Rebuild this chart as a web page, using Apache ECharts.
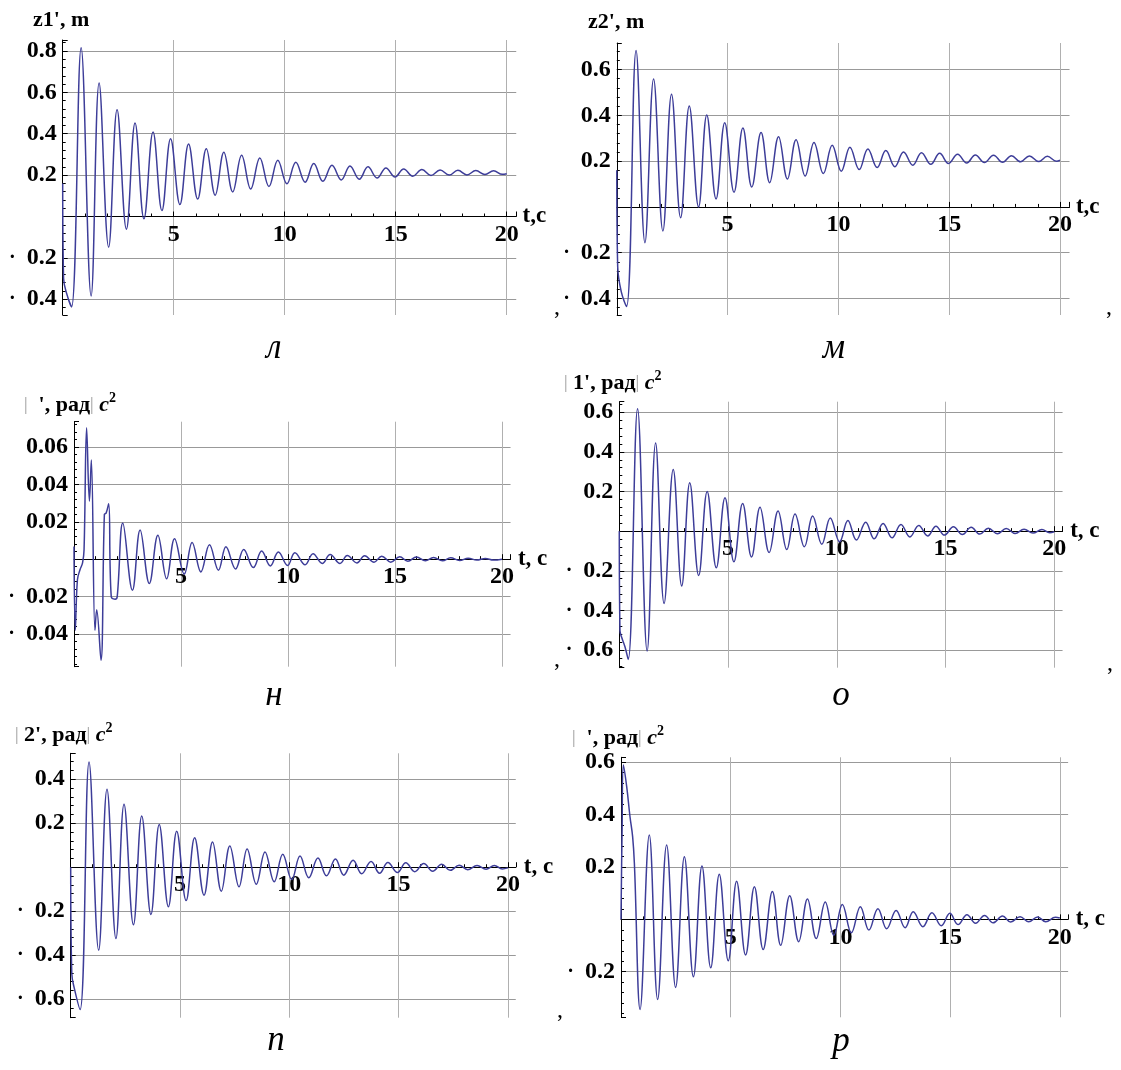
<!DOCTYPE html>
<html><head><meta charset="utf-8">
<script src="https://cdn.jsdelivr.net/npm/echarts@6/dist/echarts.min.js"></script>
<style>html,body{margin:0;padding:0;background:#fff}#c{width:1121px;height:1070px}</style>
</head><body><div id="c"></div>
<script>
// ---- data (t in s, value) ----
const tL = [0,0.04,0.2,0.4,0.83,1.28,1.64,2.07,2.45,2.87,3.26,3.66,4.07,4.47,4.86,5.28,5.67,6.08,6.47,6.87,7.26,7.66,8.06,8.47,8.88,9.29,9.69,10.1,10.5,10.92,11.31,11.72,12.13,12.55,12.94,13.36,13.75,14.16,14.56,14.97,15.36,15.77,16.18,16.59,17.0,17.41,17.8,18.21,18.61,19.02,19.41,19.8,20];
const vL = [0.16,-0.3,-0.38,-0.437,0.815,-0.384,0.645,-0.148,0.516,-0.061,0.452,-0.011,0.408,0.029,0.376,0.058,0.35,0.084,0.328,0.103,0.31,0.119,0.296,0.133,0.283,0.145,0.272,0.158,0.262,0.166,0.256,0.17,0.248,0.177,0.244,0.18,0.24,0.186,0.235,0.191,0.23,0.195,0.227,0.198,0.225,0.2,0.223,0.201,0.222,0.203,0.221,0.204,0.207];

const tM = [0,0.04,0.2,0.44,0.87,1.27,1.66,2.08,2.47,2.88,3.27,3.69,4.06,4.48,4.87,5.29,5.69,6.09,6.51,6.9,7.3,7.7,8.09,8.5,8.9,9.32,9.72,10.13,10.52,10.94,11.33,11.75,12.14,12.55,12.94,13.36,13.75,14.17,14.57,14.97,15.38,15.79,16.18,16.59,17.0,17.41,17.81,18.22,18.62,19.04,19.43,19.84,20];
const vM = [0.16,-0.26,-0.37,-0.435,0.683,-0.156,0.559,-0.105,0.492,-0.047,0.441,0.0,0.402,0.035,0.368,0.064,0.345,0.087,0.325,0.106,0.307,0.122,0.293,0.135,0.281,0.146,0.269,0.156,0.261,0.163,0.253,0.172,0.246,0.176,0.24,0.182,0.237,0.186,0.234,0.19,0.23,0.192,0.227,0.194,0.226,0.195,0.224,0.197,0.223,0.198,0.221,0.2,0.204];

const tN = [0,0.06,0.16,0.28,0.4,0.47,0.59,0.72,0.81,0.98,1.06,1.26,1.42,1.5,1.62,1.74,1.92,2.02,2.28,2.73,3.09,3.52,3.92,4.33,4.7,5.15,5.52,5.93,6.33,6.75,7.1,7.55,7.93,8.38,8.77,9.17,9.55,9.98,10.32,10.8,11.17,11.6,11.97,12.43,12.77,13.22,13.58,14.02,14.38,14.8,15.22,15.6,16.0,16.42,16.8,17.22,17.6,18.02,18.42,18.82,19.22,19.6,20];
const vN = [0.0068,-0.038,-0.011,-0.0057,-0.002,0.005,0.0702,0.031,0.053,-0.038,-0.027,-0.054,0.024,0.0246,0.0296,-0.02,-0.0214,-0.02,0.0193,-0.0166,0.0156,-0.013,0.0128,-0.0105,0.0109,-0.008,0.0089,-0.0068,0.0077,-0.0059,0.0066,-0.0052,0.0052,-0.0045,0.0043,-0.0036,0.0038,-0.0034,0.0034,-0.003,0.0029,-0.0023,0.0025,-0.0023,0.002,-0.002,0.0018,-0.0016,0.0016,-0.0016,0.0013,-0.0011,0.0011,-0.0009,0.0009,-0.0009,0.0007,-0.0007,0.0005,-0.0005,0.0004,-0.0005,0];

const tO = [0,0.03,0.1,0.26,0.41,0.84,1.28,1.67,2.06,2.48,2.87,3.24,3.65,4.04,4.46,4.86,5.27,5.67,6.08,6.47,6.89,7.3,7.7,8.08,8.51,8.89,9.31,9.7,10.13,10.51,10.9,11.33,11.72,12.13,12.54,12.95,13.36,13.77,14.18,14.56,14.95,15.36,15.77,16.18,16.57,16.97,17.39,17.79,18.2,18.61,19.02,19.43,19.79,20];
const vO = [0,-0.5,-0.533,-0.583,-0.647,0.618,-0.605,0.445,-0.365,0.311,-0.277,0.244,-0.224,0.2,-0.185,0.168,-0.155,0.14,-0.13,0.12,-0.108,0.101,-0.093,0.086,-0.079,0.076,-0.066,0.066,-0.054,0.054,-0.045,0.045,-0.039,0.039,-0.034,0.034,-0.029,0.029,-0.024,0.025,-0.02,0.022,-0.017,0.019,-0.015,0.015,-0.013,0.013,-0.012,0.01,-0.01,0.008,-0.008,-0.003];

const tP = [0,0.05,0.15,0.43,0.84,1.28,1.66,2.07,2.44,2.87,3.25,3.67,4.05,4.47,4.85,5.28,5.67,6.1,6.49,6.89,7.28,7.7,8.07,8.49,8.89,9.31,9.7,10.11,10.49,10.89,11.31,11.7,12.11,12.49,12.92,13.31,13.74,14.13,14.51,14.95,15.33,15.74,16.15,16.56,16.97,17.36,17.77,18.16,18.59,19.0,19.38,19.74,20];
const vP = [0,-0.483,-0.544,-0.647,0.479,-0.377,0.355,-0.324,0.286,-0.262,0.233,-0.215,0.194,-0.18,0.164,-0.151,0.134,-0.127,0.115,-0.109,0.097,-0.089,0.083,-0.077,0.069,-0.066,0.059,-0.056,0.051,-0.048,0.042,-0.039,0.038,-0.036,0.032,-0.03,0.026,-0.027,0.021,-0.024,0.02,-0.02,0.017,-0.018,0.014,-0.014,0.009,-0.011,0.008,-0.009,0.008,-0.008,-0.003];

const tR = [0,0.05,0.11,0.26,0.41,0.53,0.61,0.87,1.29,1.67,2.08,2.49,2.89,3.3,3.69,4.09,4.48,4.89,5.27,5.68,6.08,6.48,6.9,7.28,7.69,8.1,8.5,8.9,9.31,9.7,10.09,10.5,10.91,11.3,11.71,12.11,12.54,12.95,13.32,13.76,14.17,14.6,14.99,15.36,15.77,16.16,16.57,16.96,17.39,17.76,18.19,18.58,18.99,19.36,19.8,20];
const vR = [0,0.341,0.59,0.507,0.392,0.316,0.214,-0.344,0.322,-0.306,0.284,-0.26,0.239,-0.219,0.204,-0.185,0.172,-0.158,0.146,-0.136,0.125,-0.115,0.106,-0.099,0.09,-0.085,0.078,-0.073,0.066,-0.061,0.057,-0.051,0.048,-0.041,0.041,-0.036,0.034,-0.032,0.029,-0.028,0.025,-0.024,0.023,-0.02,0.018,-0.015,0.015,-0.013,0.013,-0.01,0.01,-0.009,0.009,-0.009,0.008,0.005];

const xTickStep = 5;
const xNames = ['t,c','t,c','t, c','t, c','t, c','t, c'];
const letters = ['л','м','н','о','п','р'];

// ---- layout (pixels) & axis extents ----
const panels = [
  {t:tL, v:vL, left:62.7, ppt:22.2,  tEnd:20.43, top:40,    bottom:315,    ymin:-0.476, ymax:0.853},
  {t:tM, v:vM, left:616.8,ppt:22.16, tEnd:20.43, top:43,    bottom:315,    ymin:-0.472, ymax:0.716},
  {t:tN, v:vN, left:74,   ppt:21.4,  tEnd:20.4,  top:421.7, bottom:666.7,  ymin:-0.0575,ymax:0.0735},
  {t:tO, v:vO, left:619.3,ppt:21.75, tEnd:20.38, top:401.7, bottom:667.7,  ymin:-0.689, ymax:0.653},
  {t:tP, v:vP, left:70.7, ppt:21.86, tEnd:20.36, top:753.3, bottom:1017.7, ymin:-0.684, ymax:0.518},
  {t:tR, v:vR, left:621,  ppt:21.94, tEnd:20.38, top:757.3, bottom:1017.3, ymin:-0.374, ymax:0.619}
];

const SERIF = '"Liberation Serif", "Times New Roman", serif';
const LINE = '#3d3d99';
const LABEL_SIZE = 24;

function yFmt(v){
  if (Math.abs(v) < 1e-9) return '';
  const s = String(+Math.abs(v).toFixed(3));
  return v < 0 ? '{d|·}{n|' + s + '}' : '{n|' + s + '}';
}
function xFmt(v){
  if (v > 0 && Math.abs(v / xTickStep - Math.round(v / xTickStep)) < 1e-9) return String(v);
  return '';
}

const grids = [], xAxes = [], yAxes = [], series = [];
panels.forEach((p, i) => {
  const h = p.bottom - p.top;
  // distance of the value 0 above the bottom of the plot, through the y scale
  const zeroUp = (0 - p.ymin) / (p.ymax - p.ymin) * h;
  grids.push({left:p.left, top:p.top, width:p.tEnd * p.ppt, height:h, containLabel:false});
  xAxes.push({
    type:'value', gridIndex:i, min:0, max:p.tEnd, interval:xTickStep,
    position:'bottom', offset:-zeroUp,
    name:xNames[i], nameLocation:'end', nameGap:4,
    nameTextStyle:{fontFamily:SERIF, fontWeight:'bold', fontSize:23, color:'#000'},
    axisLine:{onZero:false, lineStyle:{color:'#000', width:1}},
    axisTick:{show:true, inside:true, length:5, lineStyle:{color:'#000'}},
    minorTick:{show:true, splitNumber:5, length:3, lineStyle:{color:'#000'}},
    axisLabel:{formatter:xFmt, fontFamily:SERIF, fontWeight:'bold', fontSize:LABEL_SIZE, color:'#000', margin:6, showMinLabel:false, showMaxLabel:false},
    splitLine:{show:true, showMinLine:false, showMaxLine:false, lineStyle:{color:'#b0b0b0', width:1}}
  });
  yAxes.push({
    type:'value', gridIndex:i, min:p.ymin, max:p.ymax, splitNumber:6,
    axisLine:{show:true, onZero:false, lineStyle:{color:'#000', width:1}},
    axisTick:{show:true, inside:true, length:5, lineStyle:{color:'#000'}},
    minorTick:{show:true, splitNumber:5, length:3, lineStyle:{color:'#000'}},
    axisLabel:{formatter:yFmt, margin:6, showMinLabel:false, showMaxLabel:false,
      rich:{
        n:{fontFamily:SERIF, fontWeight:'bold', fontSize:LABEL_SIZE, color:'#000'},
        d:{fontFamily:SERIF, fontWeight:'bold', fontSize:20, color:'#000', padding:[0,11,0,0]}
      }},
    splitLine:{show:true, showMinLine:false, showMaxLine:false, lineStyle:{color:'#999', width:1}}
  });
  series.push({
    type:'line', xAxisIndex:i, yAxisIndex:i, smooth:0.4, showSymbol:false, symbol:'none',
    lineStyle:{color:LINE, width:1.5}, data:p.t.map((t, k) => [t, p.v[k]]), z:3
  });
});

const titleRich = {
  b:{fontFamily:SERIF, fontWeight:'bold', fontSize:22, fill:'#000'},
  bar:{fontFamily:SERIF, fontSize:18, fill:'#999'},
  ci:{fontFamily:SERIF, fontWeight:'bold', fontStyle:'italic', fontSize:22, fill:'#000'},
  sup:{fontFamily:SERIF, fontWeight:'bold', fontSize:14, fill:'#000', padding:[0,0,14,0]}
};
function titleText(x, y, text){
  return {type:'text', x:x, y:y, z:10, style:{text:text, rich:titleRich, textVerticalAlign:'middle', textAlign:'left'}};
}
function plainText(x, y, text, font){
  return {type:'text', x:x, y:y, z:10, style:{text:text, font:font, fill:'#000', textAlign:'center', textVerticalAlign:'middle'}};
}
const letterFont = 'italic 35px ' + SERIF;
const commaFont = '24px ' + SERIF;

const graphic = [
  titleText(33, 20, "{b|z1', m}"),
  titleText(588, 22, "{b|z2', m}"),
  titleText(24, 405, "{bar||}{b|  ', рад}{bar||}{ci| c}{sup|2}"),
  titleText(564, 383, "{bar||}{b| 1', рад}{bar||}{ci| c}{sup|2}"),
  titleText(15, 735, "{bar||}{b| 2', рад}{bar||}{ci| c}{sup|2}"),
  titleText(572, 738, "{bar||}{b|  ', рад}{bar||}{ci| c}{sup|2}"),
  plainText(274, 349, letters[0], letterFont),
  plainText(834, 349, letters[1], letterFont),
  plainText(274, 696, letters[2], letterFont),
  plainText(841, 696, letters[3], letterFont),
  plainText(276, 1041, letters[4], letterFont),
  plainText(841, 1042, letters[5], letterFont),
  plainText(557, 308, ',', commaFont),
  plainText(1109, 308, ',', commaFont),
  plainText(557, 660, ',', commaFont),
  plainText(1110, 664, ',', commaFont),
  plainText(560, 1011, ',', commaFont)
];

const chart = echarts.init(document.getElementById('c'), null, {renderer:'canvas'});
chart.setOption({
  animation:false, backgroundColor:'#fff',
  grid:grids, xAxis:xAxes, yAxis:yAxes, series:series, graphic:graphic
});
</script></body></html>
